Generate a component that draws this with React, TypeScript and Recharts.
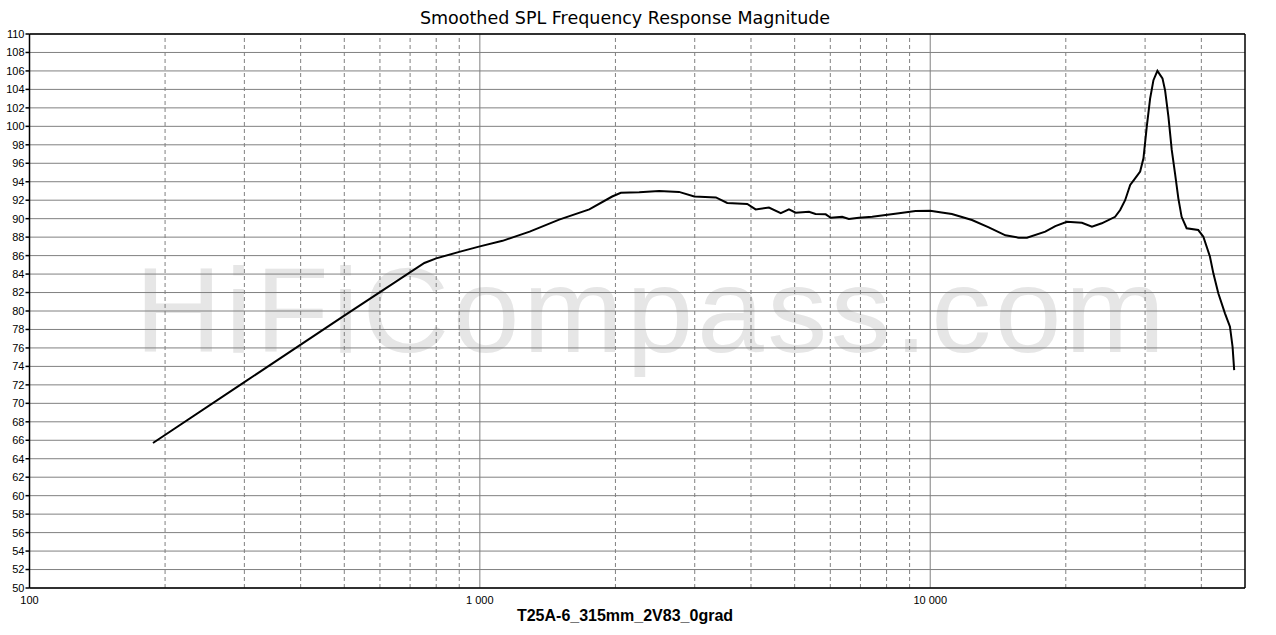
import { LineChart, Line, XAxis, YAxis, CartesianGrid, ReferenceLine } from "recharts";

// frequency (Hz) and smoothed SPL (dB)
const freqs = [
  188, 300, 500, 753, 800, 900, 1000, 1123, 1290, 1500, 1750, 1967, 2056, 2259, 2500, 2768, 2993,
  3343, 3542, 3924, 4096, 4384, 4658, 4857, 5026, 5381, 5563, 5861, 6013, 6375, 6597, 6945, 7435,
  7960, 8525, 9275, 10000, 10510, 11170, 12380, 13490, 14690, 15720, 16400, 18010, 18960, 20110,
  21720, 22860, 24040, 25740, 26410, 27090, 27800, 28510, 29250, 29750, 30260, 30780, 31310, 31950,
  32790, 33230, 33800, 34380, 34960, 35560, 36160, 37100, 39370, 40410, 41790, 42530, 43620, 45130,
  46300, 46920, 47310,
];
const spl = [
  65.7, 72.3, 79.5, 85.2, 85.7, 86.4, 87.0, 87.6, 88.6, 89.9, 91.0, 92.4, 92.8, 92.85, 93.0, 92.9,
  92.4, 92.3, 91.7, 91.6, 91.0, 91.2, 90.6, 91.0, 90.65, 90.75, 90.5, 90.47, 90.1, 90.2, 89.96, 90.1,
  90.2, 90.4, 90.58, 90.83, 90.86, 90.7, 90.5, 89.85, 89.06, 88.2, 87.94, 87.94, 88.6, 89.2, 89.67,
  89.56, 89.13, 89.5, 90.2, 90.94, 92.0, 93.65, 94.37, 95.1, 96.54, 99.96, 103.0, 105.0, 106.0,
  105.2, 103.9, 101.04, 97.44, 94.9, 92.2, 90.2, 88.96, 88.77, 88.05, 85.9, 84.08, 81.92, 79.75,
  78.3, 76.13, 73.6,
];

const yTicks = [50, 52, 54, 56, 58, 60, 62, 64, 66, 68, 70, 72, 74, 76, 78, 80, 82, 84, 86, 88, 90, 92, 94, 96, 98, 100, 102, 104, 106, 108, 110];
const xTicks = [100, 1000, 10000];
const decadeLines = [1000, 10000];
const minorLines = [
  200, 300, 400, 500, 600, 700, 800, 900,
  2000, 3000, 4000, 5000, 6000, 7000, 8000, 9000,
  20000, 30000, 40000,
];

const title = "Smoothed SPL Frequency Response Magnitude";
const curveName = "T25A-6_315mm_2V83_0grad";

const data = freqs.map((f, i) => ({ f, spl: spl[i] }));

const fmtFreq = (v: number) => (v >= 1000 ? String(v).replace(/\B(?=(\d{3})+(?!\d))/g, " ") : String(v));

export default function App() {
  return (
    <div
      style={{
        position: "absolute",
        left: 0,
        top: 0,
        width: 1276,
        height: 635,
        background: "#fff",
        overflow: "hidden",
      }}
    >
      <svg width={1276} height={635} style={{ position: "absolute", left: 0, top: 0 }}>
        <text
          x={650}
          y={352}
          textAnchor="middle"
          fontFamily="Liberation Sans, Arial, sans-serif"
          fontSize={120}
          fill="#e6e6e6"
          textLength={1030}
          lengthAdjust="spacing"
        >
          HiFiCompass.com
        </text>
      </svg>
      <div
        style={{
          position: "absolute",
          left: 0,
          top: 8,
          width: 1250,
          textAlign: "center",
          fontFamily: "DejaVu Sans, sans-serif",
          fontSize: 17.5,
        }}
      >
        {title}
      </div>
      <div
        style={{
          position: "absolute",
          left: 0,
          top: 607,
          width: 1250,
          textAlign: "center",
          fontFamily: "Liberation Sans, Arial, sans-serif",
          fontSize: 16,
          fontWeight: "bold",
        }}
      >
        {curveName}
      </div>
      <div style={{ position: "absolute", left: 0, top: 0 }}>
        <LineChart width={1276} height={635} data={data} margin={{ top: 34, right: 31, left: 0, bottom: 0 }}>
          <CartesianGrid vertical={false} stroke="#808080" strokeWidth={1} />
          {minorLines.map((v) => (
            <ReferenceLine key={v} x={v} stroke="#808080" strokeDasharray="4 3" />
          ))}
          {decadeLines.map((v) => (
            <ReferenceLine key={v} x={v} stroke="#808080" />
          ))}
          <ReferenceLine y={110} stroke="#000" strokeWidth={1.5} />
          <ReferenceLine x={50000} stroke="#000" strokeWidth={1.5} />
          <XAxis
            dataKey="f"
            type="number"
            scale="log"
            domain={[100, 50000]}
            ticks={xTicks}
            tickFormatter={fmtFreq}
            height={47}
            tickSize={0}
            tickMargin={8}
            allowDataOverflow
            stroke="#000"
            strokeWidth={1.5}
            tick={{ fill: "#000", fontSize: 11, fontFamily: "Liberation Sans, Arial, sans-serif" }}
          />
          <YAxis
            type="number"
            domain={[50, 110]}
            ticks={yTicks}
            interval={0}
            width={29.5}
            tickSize={4}
            tickMargin={1}
            allowDataOverflow
            stroke="#000"
            strokeWidth={1.5}
            tick={{ fill: "#000", fontSize: 11, fontFamily: "Liberation Sans, Arial, sans-serif" }}
          />
          <Line
            dataKey="spl"
            type="linear"
            stroke="#000"
            strokeWidth={2}
            dot={false}
            isAnimationActive={false}
          />
        </LineChart>
      </div>
    </div>
  );
}
